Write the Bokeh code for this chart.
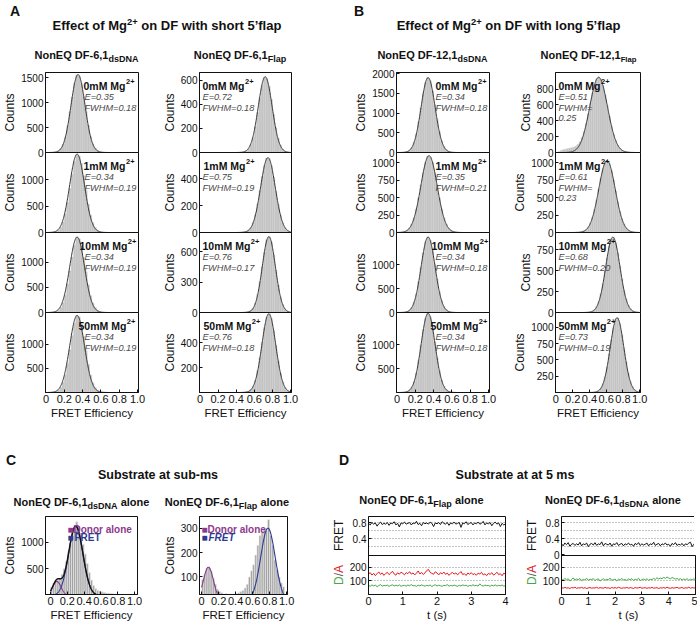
import numpy as np
from bokeh.plotting import figure
from bokeh.models import Range1d, FixedTicker, Label, Div, CustomJSTickFormatter
from bokeh.layouts import row, column
from bokeh.embed import file_html
from bokeh.resources import INLINE

FONT = "Liberation Sans"

# ======================= DATA =======================
E_BIN_CENTERS = np.round(0.0125 + 0.025 * np.arange(40), 4)   # FRET-efficiency bins
BIN_W = 0.025
FIT_X = np.linspace(0.0, 1.0, 401)

MG = ["0mM", "1mM", "10mM", "50mM"]

# --- A: NonEQ DF-6,1 dsDNA ---
A_DS_COUNTS = [
    [0,0,2,5,12,35,74,165,305,530,815,1110,1390,1550,1525,1380,1120,815,540,320,175,90,45,22,12,6,3,1,0,0,0,0,0,0,0,0,0,0,0,0],
    [0,0,3,8,20,48,102,200,352,570,835,1110,1345,1480,1450,1310,1080,800,540,330,185,95,44,20,9,4,2,1,0,0,0,0,0,0,0,0,0,0,0,0],
    [0,0,3,7,19,46,98,196,348,565,830,1105,1340,1495,1465,1325,1090,810,550,335,190,98,46,21,9,4,2,1,0,0,0,0,0,0,0,0,0,0,0,0],
    [0,0,3,8,21,50,106,210,372,602,884,1176,1430,1590,1560,1410,1160,860,585,355,200,103,48,22,10,5,2,1,0,0,0,0,0,0,0,0,0,0,0,0],
]
A_DS_E = [0.35, 0.34, 0.34, 0.34]
A_DS_FWHM = [0.18, 0.19, 0.19, 0.19]
A_DS_PEAK = [1560, 1490, 1500, 1590]
A_DS_YMAX = [1600, 1520, 1590, 1650]
A_DS_YTICKS = [[0, 500, 1000, 1500], [0, 500, 1000], [0, 500, 1000], [500, 1000]]

# --- A: NonEQ DF-6,1 Flap ---
A_FL_COUNTS = [
    [0,0,0,0,0,0,0,0,0,0,0,0,0,0,0,0,1,2,3,6,14,32,68,127,215,330,452,560,625,612,550,440,318,205,118,60,27,11,4,1],
    [0,0,0,0,0,0,0,0,0,0,0,0,0,0,0,0,2,3,4,6,9,18,38,75,132,212,312,415,500,555,548,498,410,305,208,128,72,36,16,7],
    [0,0,0,0,0,0,0,0,0,0,0,0,0,0,0,0,0,1,2,3,6,9,20,45,95,180,305,455,600,720,750,700,575,420,272,156,80,37,15,5],
    [0,0,0,0,0,0,0,0,0,0,0,0,0,0,0,0,0,1,2,4,6,11,24,50,98,176,280,400,520,602,628,592,496,378,255,157,86,42,19,8],
]
A_FL_E = [0.72, 0.75, 0.76, 0.76]
A_FL_FWHM = [0.18, 0.19, 0.17, 0.18]
A_FL_PEAK = [630, 558, 752, 630]
A_FL_YMAX = [665, 596, 793, 640]
A_FL_YTICKS = [[0, 200, 400, 600], [0, 200, 400], [0, 300, 600], [200, 400]]

# --- B: NonEQ DF-12,1 dsDNA ---
B_DS_COUNTS = [
    [0,0,3,8,23,57,127,260,473,773,1136,1501,1780,1900,1820,1566,1212,842,530,300,155,72,32,14,7,4,2,0,0,0,0,0,0,0,0,0,0,0,0,0],
    [1,2,5,14,32,64,121,209,336,496,680,860,1007,1095,1080,1005,860,680,496,336,209,121,66,34,16,7,3,1,0,0,0,0,0,0,0,0,0,0,0,0],
    [0,0,2,6,19,47,106,216,392,641,942,1244,1476,1575,1509,1298,1005,698,440,248,126,58,24,10,5,2,1,0,0,0,0,0,0,0,0,0,0,0,0,0],
    [0,0,2,7,20,50,111,226,411,672,987,1304,1546,1650,1581,1360,1053,731,460,260,132,60,25,10,5,2,1,0,0,0,0,0,0,0,0,0,0,0,0,0],
]
B_DS_E = [0.34, 0.35, 0.34, 0.34]
B_DS_FWHM = [0.18, 0.21, 0.18, 0.18]
B_DS_PEAK = [1900, 1100, 1575, 1650]
B_DS_YMAX = [2030, 1145, 1670, 1667]
B_DS_YTICKS = [[0, 500, 1000, 1500, 2000], [0, 250, 500, 750, 1000], [0, 500, 1000], [500, 1000]]

# --- B: NonEQ DF-12,1 Flap ---
B_FL_COUNTS = [
    [2,10,25,35,42,48,55,60,68,80,100,135,190,265,365,490,623,752,860,929,950,919,841,728,596,462,338,235,154,96,56,31,16,8,4,2,1,0,0,0],
    [0,0,0,0,0,0,2,3,4,5,6,8,14,24,44,80,135,218,332,470,626,782,915,1003,1030,990,892,752,594,440,305,198,121,68,36,18,8,3,1,0],
    [0,0,0,0,0,0,0,0,0,0,1,1,2,3,4,5,8,16,35,70,130,222,346,498,656,794,881,896,836,716,562,404,266,161,89,46,22,9,4,1],
    [0,0,0,0,0,0,0,0,0,0,0,0,1,2,3,4,5,6,8,15,32,68,134,242,398,596,811,1000,1124,1145,1060,892,682,474,299,171,89,43,18,7],
]
B_FL_E = [0.51, 0.61, 0.68, 0.73]
B_FL_FWHM = [0.25, 0.23, 0.20, 0.19]
B_FL_PEAK = [950, 1030, 900, 1150]
B_FL_YMAX = [1010, 1145, 955, 1230]
B_FL_YTICKS = [[0, 200, 400, 600, 800], [0, 250, 500, 750, 1000], [0, 250, 500, 750], [250, 500, 750, 1000]]

# --- C: sub-ms histograms ---
C_DS_COUNTS = [160,230,270,290,330,400,500,640,820,1000,1180,1300,1380,1290,1150,960,780,600,430,290,
               190,130,100,85,70,60,50,45,40,35,30,25,20,15,10,6,4,3,2,0]
C_FL_COUNTS = [90,110,135,140,125,95,70,50,40,35,30,32,28,30,26,30,32,35,40,45,
               55,70,100,125,150,190,230,270,285,300,290,335,270,230,170,130,100,75,60,0]
# Gaussian fit components: (amplitude, centre, sigma)
C_DS_DONOR = (265, 0.075, 0.05)
C_DS_FRET = (1300, 0.30, 0.085)
C_FL_DONOR = (140, 0.08, 0.06)
C_FL_FRET = (300, 0.78, 0.085)

# --- D: 5 ms time traces ---
T_FLAP = np.linspace(0, 4, 81)
T_DS = np.linspace(0, 5, 81)
D_FL_FRET = [0.78,0.74,0.80,0.76,0.79,0.71,0.77,0.81,0.75,0.78,
             0.76,0.80,0.73,0.79,0.77,0.82,0.74,0.78,0.69,0.79,
             0.77,0.81,0.76,0.78,0.80,0.74,0.79,0.77,0.83,0.75,
             0.78,0.72,0.80,0.77,0.79,0.76,0.81,0.78,0.70,0.79,
             0.77,0.80,0.75,0.82,0.78,0.76,0.80,0.73,0.79,0.77,
             0.81,0.76,0.78,0.80,0.68,0.79,0.77,0.82,0.75,0.78,
             0.80,0.74,0.79,0.77,0.81,0.76,0.78,0.83,0.74,0.79,
             0.77,0.80,0.72,0.78,0.81,0.76,0.79,0.70,0.78,0.74,0.77]
D_FL_ACC = [148,160,142,155,138,152,165,147,158,140,
            153,162,145,157,170,150,141,159,148,163,
            155,144,160,152,167,149,158,143,156,172,
            150,161,146,158,175,183,162,154,148,166,
            157,143,159,151,164,147,156,140,153,161,
            149,158,144,155,168,146,152,139,157,148,
            160,145,153,141,156,150,162,143,151,138,
            154,147,159,142,150,163,145,152,137,156,148]
D_FL_DON = [66,60,70,63,68,58,65,72,61,67,
            64,69,59,66,71,62,68,63,70,60,
            65,67,61,69,64,73,62,66,59,68,
            63,70,65,61,67,64,69,58,66,71,
            62,68,64,60,67,65,72,61,66,63,
            69,64,60,67,62,70,65,68,59,66,
            63,71,64,67,61,78,65,62,69,64,
            66,60,68,63,70,62,67,64,69,61,66]
D_DS_FRET = [0.27,0.22,0.29,0.25,0.30,0.21,0.26,0.28,0.23,0.27,
             0.24,0.31,0.22,0.27,0.25,0.29,0.20,0.26,0.28,0.24,
             0.30,0.23,0.27,0.25,0.32,0.22,0.28,0.26,0.24,0.29,
             0.21,0.27,0.25,0.30,0.23,0.26,0.28,0.22,0.27,0.25,
             0.29,0.24,0.26,0.21,0.28,0.25,0.30,0.23,0.27,0.24,
             0.26,0.29,0.22,0.27,0.25,0.31,0.23,0.26,0.28,0.22,
             0.27,0.25,0.29,0.24,0.26,0.21,0.28,0.25,0.30,0.23,
             0.26,0.24,0.28,0.22,0.27,0.25,0.29,0.31,0.20,0.26,0.24]
D_DS_DON = [112,104,118,107,115,99,110,121,105,113,
            108,117,101,111,106,119,103,112,109,116,
            102,110,114,98,108,115,104,111,107,120,
            103,109,113,100,112,106,118,105,110,102,
            114,108,116,103,111,107,119,101,109,113,
            106,115,104,112,108,118,110,122,114,120,
            116,125,118,128,121,115,124,119,112,117,
            110,115,106,113,108,116,104,111,107,114,109]
D_DS_ACC = [50,46,52,47,49,44,51,48,53,45,
            49,47,52,46,50,44,48,51,46,49,
            47,53,45,50,48,46,52,47,49,44,
            51,47,50,46,53,48,45,49,47,52,
            46,50,48,44,51,47,49,53,46,48,
            50,45,49,47,52,46,48,50,44,49,
            47,51,46,53,48,45,50,47,49,52,
            46,48,51,45,49,47,53,46,50,48,47]

# ======================= STYLE / HELPERS =======================
INK = "#111111"
PURPLE = "#8c3a8c"
BLUE = "#2e3a92"
RED = "#e3191c"
GREEN = "#45a845"
FMT = CustomJSTickFormatter(code="return tick == 0 ? '0' : tick.toFixed(1);")

BOLD_W = {"m": 889, "M": 833, " ": 278, "g": 611}
MG_SIZE = 10.5
EF_SIZE = 9.2


def text_w(s, size):
    return sum(BOLD_W.get(c, 556) for c in s) * size / 1000.0


def style_axis(ax, label_size, tick_size):
    ax.axis_line_color = INK
    ax.major_tick_line_color = INK
    ax.major_tick_in = 3
    ax.major_tick_out = 0
    ax.minor_tick_line_color = None
    ax.major_label_text_font = FONT
    ax.major_label_text_font_size = tick_size
    ax.major_label_text_color = INK
    ax.axis_label_text_font = FONT
    ax.axis_label_text_font_size = label_size
    ax.axis_label_text_font_style = "normal"
    ax.axis_label_text_color = INK
    ax.major_label_standoff = 2
    ax.axis_label_standoff = 1


def base_fig(fw, fh, lb, rb, bt, bb, xr, yr, overlap):
    p = figure(frame_width=fw, frame_height=fh, min_border_left=lb, min_border_right=rb,
               min_border_top=bt, min_border_bottom=bb,
               x_range=Range1d(*xr), y_range=Range1d(*yr),
               output_backend="svg", toolbar_location=None, tools="", title=None)
    p.border_fill_color = None
    p.background_fill_color = None
    p.outline_line_color = INK
    p.outline_line_width = 1
    p.xgrid.visible = False
    p.ygrid.visible = False
    if overlap:
        p.margin = (-12, 0, 0, 0)
    return p


def add_label(p, xr, yr, fw, fh, text, xpx, ypx, size, style, color):
    dxp = (xr[1] - xr[0]) / fw
    dyp = (yr[1] - yr[0]) / fh
    p.add_layout(Label(x=xr[0] + xpx * dxp, y=yr[1] - ypx * dyp, text=text,
                       text_font=FONT, text_font_size=f"{size}px", text_font_style=style,
                       text_color=color, text_align="left", text_baseline="alphabetic"))


def hist_panel(counts, E, fwhm, peak, ymax, yticks, mg, hx, ex, split, fw, lb, rb, first, last):
    fh = 80
    xr = (-0.005, 1.01)
    yr = (0, ymax)
    p = base_fig(fw, fh, lb, rb, 6, 32 if last else 6, xr, yr, not first)
    p.vbar(x=E_BIN_CENTERS, top=counts, width=BIN_W, bottom=0,
           fill_color="#c4c4c4", line_color="#cfcfcf", line_width=0.4)
    sig = fwhm / 2.3548
    p.line(FIT_X, peak * np.exp(-(FIT_X - E) ** 2 / (2 * sig ** 2)),
           line_color="#333333", line_width=1.0)
    ya = p.yaxis[0]
    style_axis(ya, "12px", "10px")
    ya.ticker = FixedTicker(ticks=yticks)
    ya.axis_label = "Counts"
    xa = p.xaxis[0]
    if last:
        style_axis(xa, "11.5px", "11px")
        xa.ticker = FixedTicker(ticks=[0, 0.2, 0.4, 0.6, 0.8, 1.0])
        xa.formatter = FMT
        xa.axis_label = "FRET Efficiency"
    else:
        xa.visible = False
    head = f"{mg} Mg"
    add_label(p, xr, yr, fw, fh, head, hx, 13.5, MG_SIZE, "bold", INK)
    add_label(p, xr, yr, fw, fh, "2+", hx + text_w(head, MG_SIZE) + 0.5, 9, 7.5, "bold", INK)
    add_label(p, xr, yr, fw, fh, f"E={E:.2f}", ex, 24.5, EF_SIZE, "italic", "#4a4a4a")
    if split:
        add_label(p, xr, yr, fw, fh, "FWHM=", ex, 35, EF_SIZE, "italic", "#4a4a4a")
        add_label(p, xr, yr, fw, fh, f"{fwhm:.2f}", ex, 45.5, EF_SIZE, "italic", "#4a4a4a")
    else:
        add_label(p, xr, yr, fw, fh, f"FWHM={fwhm:.2f}", ex, 35, EF_SIZE, "italic", "#4a4a4a")
    return p


def hist_column(counts, Es, fwhms, peaks, ymaxs, yticks, hxs, ex, splits, fw, lb, rb):
    figs = []
    for i in range(4):
        figs.append(hist_panel(counts[i], Es[i], fwhms[i], peaks[i], ymaxs[i], yticks[i], MG[i],
                               hxs[i], ex, splits[i], fw, lb, rb, i == 0, i == 3))
    return column(*figs)


def gauss(par):
    a, c, s = par
    return a * np.exp(-(FIT_X - c) ** 2 / (2 * s ** 2))


def c_panel(counts, yr, yticks, xr, fw, lb, rb, donor, fret, total, fret_style, lgx):
    fh = 78
    p = base_fig(fw, fh, lb, rb, 6, 27, xr, yr, False)
    p.vbar(x=E_BIN_CENTERS, top=counts, width=BIN_W, bottom=0,
           fill_color="#a3a3a3", line_color="#eeeeee", line_width=0.6)
    d = gauss(donor)
    f = gauss(fret)
    p.line(FIT_X, d, line_color=PURPLE, line_width=1.1)
    p.line(FIT_X, f, line_color=BLUE, line_width=1.1)
    if total:
        p.line(FIT_X, d + f, line_color="#111111", line_width=1.4)
    ya = p.yaxis[0]
    style_axis(ya, "12px", "10px")
    ya.ticker = FixedTicker(ticks=yticks)
    ya.axis_label = "Counts"
    xa = p.xaxis[0]
    style_axis(xa, "11.5px", "11px")
    xa.ticker = FixedTicker(ticks=[0, 0.2, 0.4, 0.6, 0.8, 1.0])
    xa.formatter = FMT
    xa.axis_label = "FRET Efficiency"
    add_label(p, xr, yr, fw, fh, "\u25a0Donor alone", lgx, 12.5, 10, "bold", PURPLE)
    add_label(p, xr, yr, fw, fh, "\u25a0", lgx, 20.5, 10, "bold", BLUE)
    add_label(p, xr, yr, fw, fh, "FRET", lgx + 7, 20.5, 10, fret_style, BLUE)
    return p


def vtext(left, center_y, width, html, size=12):
    # rotated (bottom-to-top) HTML text whose centre sits at center_y
    return (f'<div style="position:absolute;left:{left}px;top:{center_y + width / 2}px;'
            f'transform:rotate(-90deg);transform-origin:0 0;font-size:{size}px;line-height:1;'
            f'white-space:nowrap;">{html}</div>')


def d_panels(t, fret, don, acc, xmax, fret_ticks, fw, lw, lb, rb):
    fh = 39
    ptop = base_fig(fw, fh, lb, rb, 6, 6, (0, xmax), (-0.02, 0.95), False)
    g = ptop.ygrid[0]
    g.visible = True
    g.ticker = FixedTicker(ticks=[0.2, 0.4, 0.6, 0.8])
    g.grid_line_color = "#8a8a8a"
    g.grid_line_dash = "1 2"
    ptop.line(t, fret, line_color="#151515", line_width=1.0)
    ptop.xaxis.visible = False
    ya = ptop.yaxis[0]
    style_axis(ya, "12px", "10px")
    ya.ticker = FixedTicker(ticks=fret_ticks)
    ya.formatter = FMT

    pbot = base_fig(fw, fh, lb, rb, 6, 27, (0, xmax), (0, 285), True)
    g = pbot.ygrid[0]
    g.visible = True
    g.ticker = FixedTicker(ticks=[100, 200])
    g.grid_line_color = "#8a8a8a"
    g.grid_line_dash = "1 2"
    pbot.line(t, acc, line_color=RED, line_width=1.0)
    pbot.line(t, don, line_color=GREEN, line_width=1.0)
    ya = pbot.yaxis[0]
    style_axis(ya, "12px", "10px")
    ya.ticker = FixedTicker(ticks=[100, 200])
    xa = pbot.xaxis[0]
    style_axis(xa, "11.5px", "11px")
    xa.ticker = FixedTicker(ticks=list(range(0, int(xmax) + 1)))
    xa.axis_label = "t (s)"

    # y-axis titles: "FRET" and the two-coloured "D/A"
    h_total = (6 + fh + 6) + (6 + fh + 27) - 12
    da = (f'<span style="color:{GREEN}">D</span><span style="color:#555">/</span>'
          f'<span style="color:{RED}">A</span>')
    html = (f'<div style="position:relative;width:{lw}px;height:{h_total}px;'
            f'font-family:\'Liberation Sans\',Arial,sans-serif;color:#111;">'
            + vtext(4, 6 + fh / 2, 31.3, "FRET")
            + vtext(4, 51 - 12 + 6 + fh / 2, 20.0, da)
            + "</div>")
    lab = Div(text=html, width=lw, height=h_total, margin=0)
    return row(lab, column(ptop, pbot))


# ======================= HEADERS =======================
def sub(s, k=0.82):
    return f'<span style="font-size:{k}em;position:relative;top:0.38em">{s}</span>'


def sup(s):
    return f'<span style="font-size:0.72em;position:relative;top:-0.5em">{s}</span>'


def at(left, top, html, size):
    return (f'<div style="position:absolute;left:{left}px;top:{top}px;font-size:{size}px;'
            f'font-weight:bold;line-height:1;white-space:nowrap;">{html}</div>')


def centered(cx, top, html, size, w):
    return (f'<div style="position:absolute;left:{cx - w / 2}px;top:{top}px;width:{w}px;'
            f'text-align:center;font-size:{size}px;font-weight:bold;line-height:1;'
            f'white-space:nowrap;">{html}</div>')


def header_div(items, w, h):
    html = (f'<div style="position:relative;width:{w}px;height:{h}px;'
            f'font-family:\'Liberation Sans\',Arial,sans-serif;color:#111;">' + "".join(items) + "</div>")
    return Div(text=html, width=w, height=h, margin=0)


top_div = header_div([
    at(10, 4, "A", 14),
    centered(167, 19, f"Effect of Mg{sup('2+')} on DF with short 5\u2019flap", 13, 280),
    centered(86.5, 50, f"NonEQ DF-6,1{sub('dsDNA')}", 11, 150),
    centered(240, 50, f"NonEQ DF-6,1{sub('Flap')}", 11, 150),
    at(354, 4, "B", 14),
    centered(508.5, 19, f"Effect of Mg{sup('2+')} on DF with long 5\u2019flap", 13, 280),
    centered(432.5, 50, f"NonEQ DF-12,1{sub('dsDNA')}", 11, 150),
    centered(588.5, 50, f"NonEQ DF-12,1{sub('Flap', 0.7)}", 11, 150),
], 684, 66)

bottom_div = header_div([
    at(6, 29, "C", 14),
    centered(158, 45, "Substrate at sub-ms", 12.5, 240),
    centered(81.5, 73, f"NonEQ DF-6,1{sub('dsDNA')} alone", 11, 150),
    centered(227, 73, f"NonEQ DF-6,1{sub('Flap')} alone", 11, 150),
    at(339, 29, "D", 14),
    centered(515, 45, "Substrate at at 5 ms", 12.5, 240),
    centered(421.5, 71, f"NonEQ DF-6,1{sub('Flap')} alone", 11, 150),
    centered(613, 71, f"NonEQ DF-6,1{sub('dsDNA')} alone", 11, 150),
], 684, 86)

# ======================= LAYOUT =======================
colA1 = hist_column(A_DS_COUNTS, A_DS_E, A_DS_FWHM, A_DS_PEAK, A_DS_YMAX, A_DS_YTICKS,
                    [38, 38, 34, 33], 39, [False] * 4, 93, 40, 21)
colA2 = hist_column(A_FL_COUNTS, A_FL_E, A_FL_FWHM, A_FL_PEAK, A_FL_YMAX, A_FL_YTICKS,
                    [3, 4, 3, 4], 3, [False] * 4, 92, 40, 60)
colB1 = hist_column(B_DS_COUNTS, B_DS_E, B_DS_FWHM, B_DS_PEAK, B_DS_YMAX, B_DS_YTICKS,
                    [39, 39, 35, 34], 39, [False] * 4, 93, 40, 21)
colB2 = hist_column(B_FL_COUNTS, B_FL_E, B_FL_FWHM, B_FL_PEAK, B_FL_YMAX, B_FL_YTICKS,
                    [3, 3, 3, 3], 3, [True, True, False, False], 85, 40, 10)

c1 = c_panel(C_DS_COUNTS, (20, 1480), [500, 1000], (-0.06, 1.035), 92, 40, 22,
             C_DS_DONOR, C_DS_FRET, True, "bold", 22)
c2 = c_panel(C_FL_COUNTS, (28, 348), [100, 200, 300], (-0.025, 1.01), 88, 38, 42,
             C_FL_DONOR, C_FL_FRET, False, "bold italic", 2)
d1 = d_panels(T_FLAP, D_FL_FRET, D_FL_DON, D_FL_ACC, 4, [0.4, 0.8], 137, 17, 19, 17)
d2 = d_panels(T_DS, D_DS_FRET, D_DS_DON, D_DS_ACC, 5, [0, 0.4, 0.8], 134, 17, 19, 2)

layout = column(
    top_div,
    row(colA1, colA2, colB1, colB2),
    bottom_div,
    row(c1, c2, d1, d2),
)

open("out.html", "w").write(file_html(layout, INLINE))
